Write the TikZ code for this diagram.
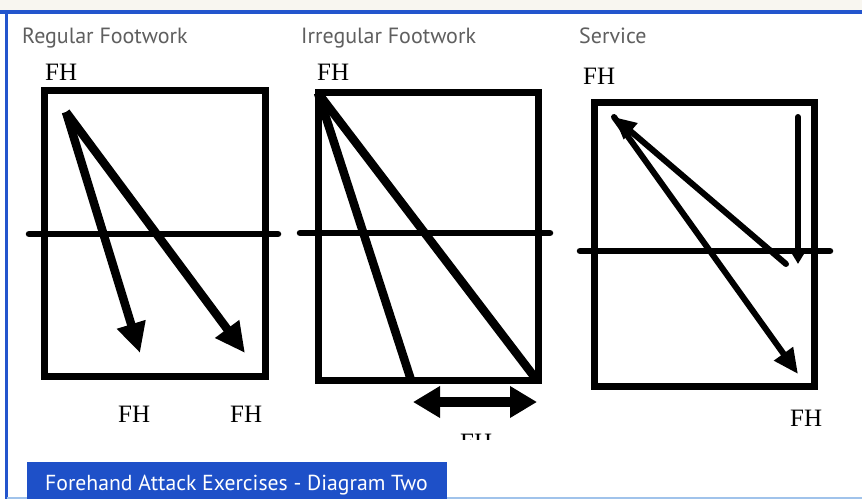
\documentclass[tikz,border=0pt]{standalone}
\usepackage{fontspec}
\setmainfont{Liberation Serif}
\newfontfamily\titlefont{PT Sans}
\usetikzlibrary{arrows.meta}
\definecolor{frameblue}{RGB}{35,85,205}
\definecolor{barblue}{RGB}{30,80,200}
\definecolor{titlegray}{RGB}{95,95,95}
\definecolor{cream}{RGB}{248,246,240}
\definecolor{lightline}{RGB}{160,195,235}
\begin{document}
\begin{tikzpicture}[x=1pt,y=-1pt,
  court/.style={draw=black, line width=7pt},
  netline/.style={draw=black, line width=6.5pt, line cap=round},
  bigshot/.style={draw=black, line width=8.5pt, -{Triangle[length=30pt,width=28pt]}},
  plainshot/.style={draw=black, line width=8.5pt},
  thinshot/.style={draw=black, line width=6pt, line cap=round},
  title/.style={anchor=base west, inner sep=0pt, text=titlegray, font=\titlefont\fontsize{22}{26}\selectfont},
  fh/.style={anchor=base west, inner sep=0pt, font=\fontsize{25}{28}\selectfont}
]
\useasboundingbox (0,0) rectangle (862,499);
\fill[white] (0,0) rectangle (862,499);
\fill[cream] (0,0) rectangle (862,10);
\draw[frameblue, line width=4pt] (0,12) -- (862,12);
\draw[frameblue, line width=3pt] (6.5,12) -- (6.5,499);
\draw[lightline, line width=2pt] (6.5,498) -- (862,498);

% titles
\node[title] (t1) at (22,43) {Regular Footwork};
\node[title] (t2) at (301,43) {Irregular Footwork};
\node[title] (t3) at (579,43) {Service};

% panel 1
\draw[court] (44.5,90) rectangle (265,376);
\draw[netline] (29,234) -- (278,234);
\node[fh] (fh1) at (45,80) {FH};
\node[fh] (fh1a) at (118,422) {FH};
\node[fh] (fh1b) at (230,422) {FH};
\coordinate (s1) at (66,112);
\coordinate (e1a) at (140,353);
\coordinate (e1b) at (245,353);
\draw[bigshot] (s1) -- (e1a);
\draw[bigshot] (s1) -- (e1b);

% panel 2
\draw[court] (318,92) rectangle (538,380);
\draw[netline] (300,233) -- (550,233);
\node[fh] (fh2) at (317,80) {FH};
\coordinate (s2) at (318,93);
\coordinate (e2a) at (411,380);
\coordinate (e2b) at (536,379);
\draw[plainshot] (s2) -- (e2a);
\draw[plainshot] (s2) -- (e2b);
\coordinate (d2a) at (413,402);
\coordinate (d2b) at (537,402);
\draw[line width=10pt, {Triangle[length=27pt,width=30pt]}-{Triangle[length=27pt,width=30pt]}] (d2a) -- (d2b);
\begin{scope}
  \clip (440,425) rectangle (520,439);
  \node[fh] (fh2b) at (460,450) {FH};
\end{scope}

% panel 3
\draw[court] (594,102) rectangle (814,386);
\draw[netline] (580,251) -- (830,251);
\node[fh] (fh3) at (583,84) {FH};
\node[fh] (fh3b) at (790,426) {FH};
\coordinate (s3) at (614,117);
\coordinate (v3a) at (798,117);
\coordinate (v3b) at (798,264);
\coordinate (r3) at (786,264);
\coordinate (e3) at (798,374);
\draw[thinshot, -{Triangle[length=16pt,width=18pt]}] (v3a) -- (v3b);
\draw[thinshot, -{Triangle[length=22pt,width=20pt]}] (r3) -- (s3);
\draw[thinshot, -{Triangle[length=25pt,width=22pt]}] (s3) -- (e3);

% bottom bar
\fill[barblue] (27,462) rectangle (447,499);
\node[anchor=base west, inner sep=0pt, text=white, font=\titlefont\fontsize{21.7}{24}\selectfont] (bar) at (45,490) {Forehand Attack Exercises - Diagram Two};
\end{tikzpicture}
\end{document}
